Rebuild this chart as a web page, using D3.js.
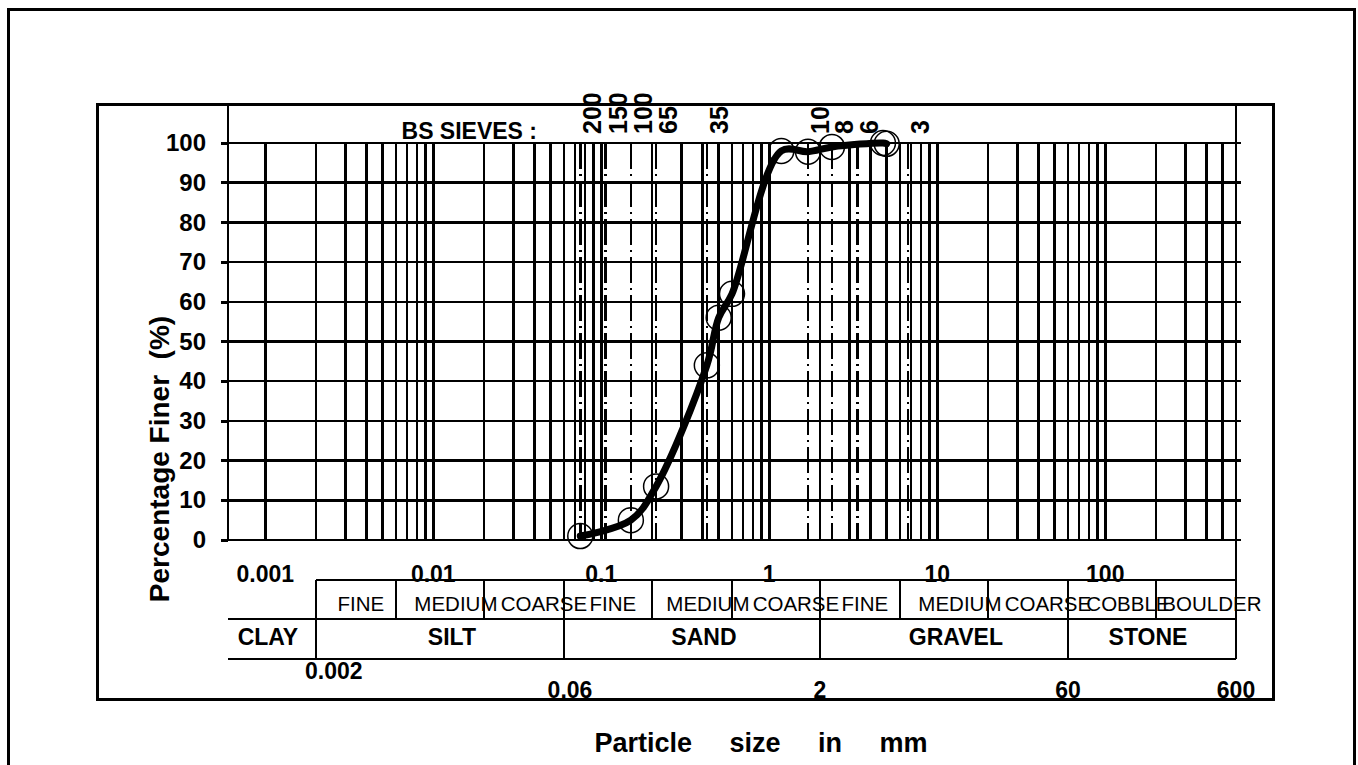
<!DOCTYPE html>
<html>
<head>
<meta charset="utf-8">
<script src="https://d3js.org/d3.v7.min.js"></script>
<style>
body { margin: 0; background: #fff; }
svg { display: block; font-family: Arial, "Liberation Sans", sans-serif; }
.b { font-weight: bold; }
line, rect { shape-rendering: crispEdges; }
</style>
</head>
<body>
<div class="chart"></div>
<script>
// Grading test results: particle size (mm) and percentage finer
var sizes = [0.075, 0.15, 0.212, 0.425, 0.5, 0.6, 1.18, 1.7, 2.36, 4.75, 5];
var finer = [1, 5, 13.5, 44, 56, 62, 98, 97.8, 99, 100, 99.8];

// BS sieve numbers and their apertures (mm)
var sieveNames = ['200', '150', '100', '65', '35', '10', '8', '6', '3'];
var sieveSizes = [0.075, 0.106, 0.15, 0.212, 0.425, 1.7, 2.36, 3.35, 6.7];

// Axis ticks
var yTicks = [0, 10, 20, 30, 40, 50, 60, 70, 80, 90, 100];
var decadeLabels = ['0.001', '0.01', '0.1', '1', '10', '100'];
var decadeValues = [0.001, 0.01, 0.1, 1, 10, 100];

// Soil classification table
var mainNames = ['CLAY', 'SILT', 'SAND', 'GRAVEL', 'STONE'];
var mainBounds = [0.0006, 0.002, 0.06, 2, 60, 600];
var subNames = ['FINE', 'MEDIUM', 'COARSE', 'FINE', 'MEDIUM', 'COARSE',
                'FINE', 'MEDIUM', 'COARSE', 'COBBLE', 'BOULDER'];
var subBounds = [0.002, 0.006, 0.02, 0.06, 0.2, 0.6, 2, 6, 20, 60, 200, 600];
var boundLabels = ['0.002', '0.06', '2', '60', '600'];
var boundValues = [0.002, 0.06, 2, 60, 600];

var width = 1358;
var height = 765;
var frameTop = 104;
var row1 = 580, row2 = 619, row3 = 659;

var svg = d3.select(".chart")
    .append("svg")
    .attr("width", width)
    .attr("height", height);

var x = d3.scaleLog()
    .domain([0.0006, 600])
    .range([228, 1236]);
var y = d3.scaleLinear()
    .domain([0, 100])
    .range([540, 143]);

// outer and inner frames
svg.append("rect")
    .attr("x", 8.5).attr("y", 9.5)
    .attr("width", 1346).attr("height", 820)
    .attr("fill", "none").attr("stroke", "#000").attr("stroke-width", 3);
svg.append("rect")
    .attr("x", 97).attr("y", frameTop)
    .attr("width", 1176).attr("height", 595)
    .attr("fill", "none").attr("stroke", "#000").attr("stroke-width", 3);

// vertical log grid
var gridX = x.ticks().filter(function (d) { return d >= 0.00099; });
svg.append("g").selectAll("line")
    .data(gridX)
    .enter()
    .append("line")
    .attr("x1", function (d) { return x(d); })
    .attr("x2", function (d) { return x(d); })
    .attr("y1", y(100))
    .attr("y2", y(0))
    .attr("stroke", "#000")
    .attr("stroke-width", 2.5);

// plot edges
svg.append("line")
    .attr("x1", x(0.0006)).attr("x2", x(0.0006))
    .attr("y1", frameTop).attr("y2", y(0))
    .attr("stroke", "#000").attr("stroke-width", 2.5);
svg.append("line")
    .attr("x1", x(600)).attr("x2", x(600))
    .attr("y1", frameTop).attr("y2", row3)
    .attr("stroke", "#000").attr("stroke-width", 2.5);

// horizontal grid
svg.append("g").selectAll("line")
    .data(yTicks)
    .enter()
    .append("line")
    .attr("x1", x(0.0006) - 7)
    .attr("x2", x(600) + 5)
    .attr("y1", function (d) { return y(d); })
    .attr("y2", function (d) { return y(d); })
    .attr("stroke", "#000")
    .attr("stroke-width", 2.5);

// y axis labels
var yAxis = d3.axisLeft(y)
    .tickValues(yTicks)
    .tickSize(7)
    .tickPadding(15);
var gy = svg.append("g")
    .attr("transform", "translate(" + x(0.0006) + ",0)")
    .call(yAxis);
gy.select(".domain").remove();
gy.selectAll("line").attr("stroke-width", 2.5);
gy.selectAll("text")
    .attr("class", "b")
    .attr("font-size", 24)
    .attr("font-family", "Arial, 'Liberation Sans', sans-serif")
    .attr("fill", "#000");

// BS sieve lines
svg.append("g").selectAll("line")
    .data(sieveSizes)
    .enter()
    .append("line")
    .attr("x1", function (d) { return x(d); })
    .attr("x2", function (d) { return x(d); })
    .attr("y1", y(100))
    .attr("y2", y(0))
    .attr("stroke", "#000")
    .attr("stroke-width", 2.5)
    .attr("stroke-dasharray", "26,5,2,5");

svg.append("g").selectAll("text")
    .data(sieveNames)
    .enter()
    .append("text")
    .attr("class", "b")
    .attr("font-size", 25)
    .attr("transform", function (d, i) {
        return "translate(" + (x(sieveSizes[i]) + 21) + ",134) rotate(-90)";
    })
    .text(function (d) { return d; });

svg.append("text")
    .attr("class", "b")
    .attr("font-size", 23)
    .attr("text-anchor", "end")
    .attr("x", 537)
    .attr("y", 139)
    .text("BS SIEVES :");

// grading curve
var points = sizes.map(function (d, i) { return [d, finer[i]]; });
var line = d3.line()
    .x(function (d) { return x(d[0]); })
    .y(function (d) { return y(d[1]); })
    .curve(d3.curveCatmullRom.alpha(0.5));

svg.append("path")
    .datum(points)
    .attr("d", line)
    .attr("fill", "none")
    .attr("stroke", "#000")
    .attr("stroke-width", 7)
    .attr("stroke-linecap", "round")
    .attr("stroke-linejoin", "round");

svg.append("g").selectAll("circle")
    .data(points)
    .enter()
    .append("circle")
    .attr("cx", function (d) { return x(d[0]); })
    .attr("cy", function (d) { return y(d[1]); })
    .attr("r", 12.5)
    .attr("fill", "none")
    .attr("stroke", "#000")
    .attr("stroke-width", 1.5);

// decade labels
svg.append("g").selectAll("text")
    .data(decadeLabels)
    .enter()
    .append("text")
    .attr("class", "b")
    .attr("font-size", 23)
    .attr("text-anchor", "middle")
    .attr("x", function (d, i) { return x(decadeValues[i]); })
    .attr("y", 582)
    .text(function (d) { return d; });

// classification table
var tbl = svg.append("g").attr("stroke", "#000").attr("stroke-width", 2.5);
tbl.append("line").attr("x1", x(0.002)).attr("x2", x(600)).attr("y1", row1).attr("y2", row1);
tbl.append("line").attr("x1", x(0.0006)).attr("x2", x(600)).attr("y1", row2).attr("y2", row2);
tbl.append("line").attr("x1", x(0.0006)).attr("x2", x(600)).attr("y1", row3).attr("y2", row3);
tbl.selectAll(".sub")
    .data(subBounds)
    .enter()
    .append("line")
    .attr("x1", function (d) { return x(d); })
    .attr("x2", function (d) { return x(d); })
    .attr("y1", row1)
    .attr("y2", row2);
tbl.selectAll(".main")
    .data(mainBounds.slice(1))
    .enter()
    .append("line")
    .attr("x1", function (d) { return x(d); })
    .attr("x2", function (d) { return x(d); })
    .attr("y1", row2)
    .attr("y2", row3);

svg.append("g").selectAll("text")
    .data(subNames)
    .enter()
    .append("text")
    .attr("font-size", 20.5)
    .attr("text-anchor", "middle")
    .attr("x", function (d, i) {
        var c = (x(subBounds[i]) + x(subBounds[i + 1])) / 2;
        var nudge = d == 'FINE' ? 5 : (d == 'COARSE' ? 20 : 16);
        return c + nudge;
    })
    .attr("y", 611)
    .text(function (d) { return d; });

svg.append("g").selectAll("text")
    .data(mainNames)
    .enter()
    .append("text")
    .attr("class", "b")
    .attr("font-size", 23)
    .attr("text-anchor", "middle")
    .attr("x", function (d, i) {
        var c = (x(mainBounds[i]) + x(mainBounds[i + 1])) / 2;
        return c + ((i > 0 && i < 4) ? 12 : -4);
    })
    .attr("y", 645)
    .text(function (d) { return d; });

svg.append("g").selectAll("text")
    .data(boundLabels)
    .enter()
    .append("text")
    .attr("class", "b")
    .attr("font-size", 23)
    .attr("text-anchor", "middle")
    .attr("x", function (d, i) { return x(boundValues[i]) + (i == 0 ? 18 : (i == 1 ? 6 : 0)); })
    .attr("y", function (d, i) { return i == 0 ? 679 : 698; })
    .text(function (d) { return d; });

// axis titles
svg.append("text")
    .attr("class", "b")
    .attr("font-size", 27)
    .attr("text-anchor", "middle")
    .attr("x", 761)
    .attr("y", 752)
    .style("white-space", "pre")
    .text("Particle     size     in     mm");

svg.append("text")
    .attr("class", "b")
    .attr("font-size", 28)
    .attr("text-anchor", "middle")
    .attr("transform", "translate(169,459) rotate(-90)")
    .style("white-space", "pre")
    .text("Percentage Finer  (%)");
</script>
</body>
</html>
